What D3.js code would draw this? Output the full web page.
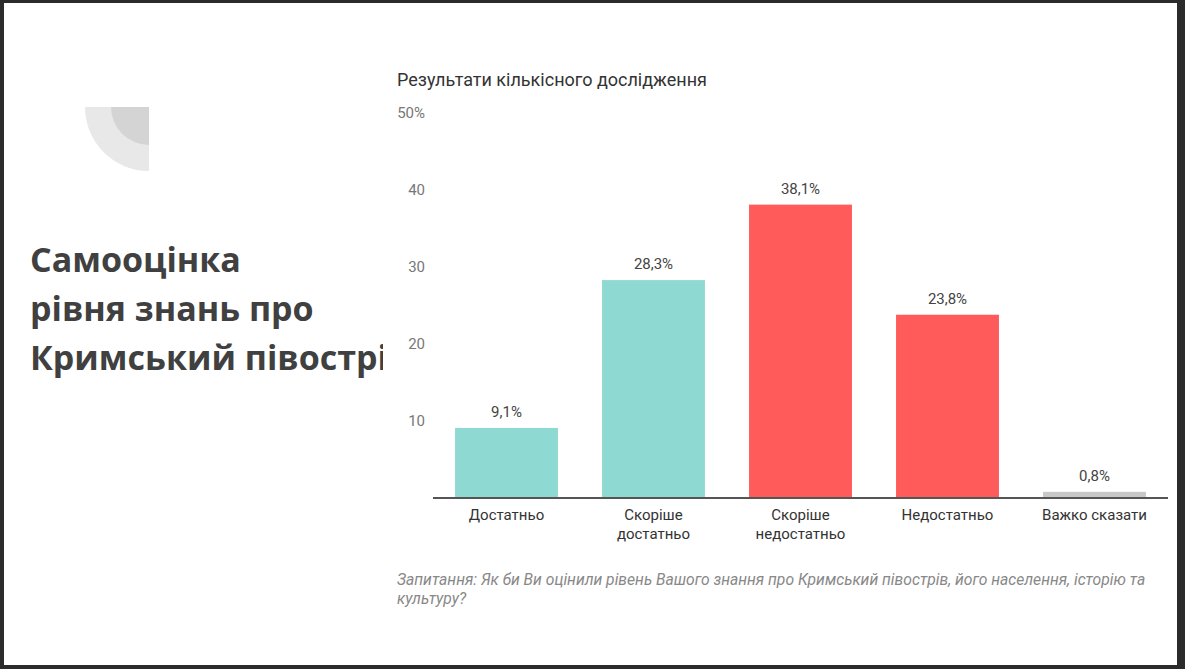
<!DOCTYPE html>
<html>
<head>
<meta charset="utf-8">
<script src="https://cdn.jsdelivr.net/npm/d3@7"></script>
<style>
  html, body { margin: 0; padding: 0; background: #2b2b2b; }
  svg { display: block; }
</style>
</head>
<body>
<svg id="slide" width="1185" height="669"></svg>
<script>
"use strict";

// chart data
const categories = ["Достатньо", "Скоріше достатньо", "Скоріше недостатньо", "Недостатньо", "Важко сказати"];
const catLines = [["Достатньо"], ["Скоріше", "достатньо"], ["Скоріше", "недостатньо"], ["Недостатньо"], ["Важко сказати"]];
const values = [9.1, 28.3, 38.1, 23.8, 0.8];
const barColors = ["#8fd9d3", "#8fd9d3", "#ff5b5a", "#ff5b5a", "#c8c8c8"];
const yTicks = [10, 20, 30, 40, 50];

const slideTitle = ["Самооцінка", "рівня знань про", "Кримський півострів"];
const chartTitle = "Результати кількісного дослідження";
const note = ["Запитання: Як би Ви оцінили рівень Вашого знання про Кримський півострів, його населення, історію та",
              "культуру?"];

const svg = d3.select("#slide");

// white slide inside the dark frame
svg.append("rect").attr("x", 4).attr("y", 3).attr("width", 1173).attr("height", 662).attr("fill", "#fff");

// decorative quarter circles
const deco = svg.append("g").attr("transform", "translate(149,107)");
deco.append("path")
  .attr("d", d3.arc()({innerRadius: 0, outerRadius: 64, startAngle: Math.PI, endAngle: Math.PI * 1.5}))
  .attr("fill", "#e8e8e8");
deco.append("path")
  .attr("d", d3.arc()({innerRadius: 0, outerRadius: 38, startAngle: Math.PI, endAngle: Math.PI * 1.5}))
  .attr("fill", "#d4d4d4");

// slide heading, cut off where the chart picture starts
svg.append("clipPath").attr("id", "headClip")
  .append("rect").attr("x", 0).attr("y", 0).attr("width", 383).attr("height", 669);

svg.append("g")
  .attr("clip-path", "url(#headClip)")
  .selectAll("text")
  .data(slideTitle)
  .join("text")
  .attr("x", 30)
  .attr("y", (d, i) => 272 + i * 49)
  .attr("font-family", "'Open Sans', sans-serif")
  .attr("font-weight", "bold")
  .attr("font-size", 34)
  .attr("fill", "#404040")
  .text(d => d);

const x = d3.scaleBand()
  .domain(categories)
  .range([433, 1168])
  .paddingInner(0.3)
  .paddingOuter(0.15);

const y = d3.scaleLinear()
  .domain([0, 50])
  .range([498, 113]);

const font = "Roboto, 'Liberation Sans', sans-serif";

svg.append("text")
  .attr("x", 397).attr("y", 86)
  .attr("font-family", font).attr("font-size", 18)
  .attr("fill", "#333")
  .text(chartTitle);

// y axis, only the labels are shown
const yAxis = svg.append("g")
  .attr("transform", "translate(425,0)")
  .call(d3.axisLeft(y).tickValues(yTicks).tickSize(0).tickPadding(0)
    .tickFormat(d => d === 50 ? d + "%" : d));
yAxis.select(".domain").remove();
yAxis.selectAll("text")
  .attr("font-family", font).attr("font-size", 15)
  .attr("fill", "#777");

svg.append("g").selectAll("rect")
  .data(values)
  .join("rect")
  .attr("x", (d, i) => x(categories[i]))
  .attr("y", d => y(d))
  .attr("width", x.bandwidth())
  .attr("height", d => y(0) - y(d))
  .attr("fill", (d, i) => barColors[i]);

svg.append("g").selectAll("text")
  .data(values)
  .join("text")
  .attr("x", (d, i) => x(categories[i]) + x.bandwidth() / 2)
  .attr("y", d => y(d) - 11)
  .attr("text-anchor", "middle")
  .attr("font-family", font).attr("font-size", 15)
  .attr("fill", "#444")
  .text(d => d.toString().replace(".", ",") + "%");

// baseline
svg.append("line")
  .attr("x1", 433).attr("x2", 1168)
  .attr("y1", y(0)).attr("y2", y(0))
  .attr("stroke", "#555").attr("stroke-width", 2);

// category labels
const xl = svg.append("g").selectAll("text")
  .data(catLines)
  .join("text")
  .attr("text-anchor", "middle")
  .attr("font-family", font).attr("font-size", 15)
  .attr("fill", "#333");
xl.selectAll("tspan")
  .data((d, i) => d.map(t => ({t, i})))
  .join("tspan")
  .attr("x", d => x(categories[d.i]) + x.bandwidth() / 2)
  .attr("y", (d, j) => 520 + j * 19)
  .text(d => d.t);

// question note
svg.append("g").selectAll("text")
  .data(note)
  .join("text")
  .attr("x", 397)
  .attr("y", (d, i) => 585 + i * 19)
  .attr("font-family", font).attr("font-size", 15.7)
  .attr("font-style", "italic")
  .attr("fill", "#888")
  .text(d => d);
</script>
</body>
</html>
